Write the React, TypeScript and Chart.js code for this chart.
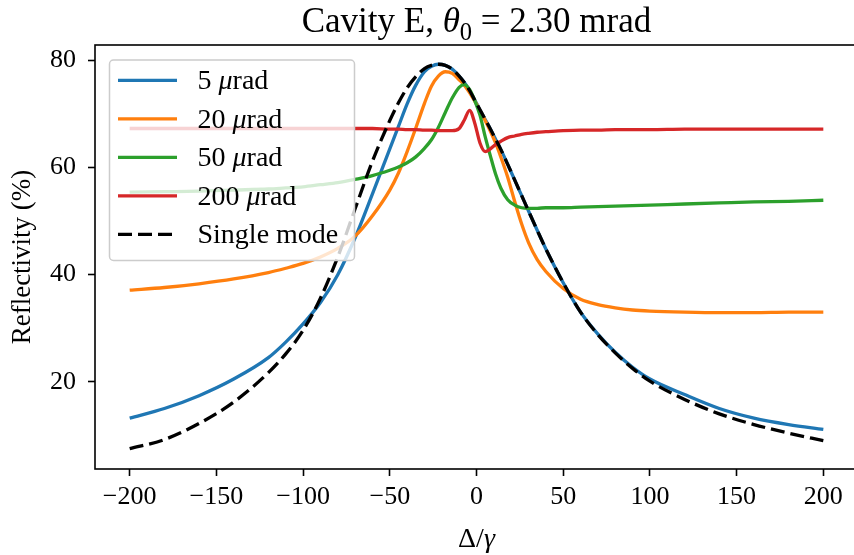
import { useEffect, useRef } from 'react';
import { Chart, registerables } from 'chart.js';

Chart.register(...registerables);

// Detuning grid (Δ/γ) shared by all curves
const DELTA = [
  -200, -180, -160, -140, -120, -110, -100, -90, -80, -70,
  -60, -50, -45, -40, -35, -30, -26, -22, -18, -14,
  -10, -7, -4, -1, 2, 5, 8, 11, 14, 18,
  22, 26, 30, 35, 40, 50, 60, 70, 80, 90,
  100, 120, 140, 160, 180, 200,
];

// Reflectivity (%) for each divergence
const R_5 = [
  13.2, 15.0, 17.4, 20.5, 24.5, 27.4, 30.8, 34.8, 40.0, 46.9,
  55.1, 63.5, 67.7, 71.9, 75.4, 77.9, 78.9, 79.3, 79.1, 78.4,
  77.1, 75.9, 74.4, 72.6, 70.8, 69.0, 67.2, 65.3, 63.4, 60.6,
  57.7, 54.8, 51.9, 48.3, 44.8, 38.5, 33.0, 28.9, 25.5, 22.7,
  20.5, 17.6, 15.0, 13.2, 12.0, 11.1,
];
const R_20 = [
  37.1, 37.6, 38.3, 39.2, 40.4, 41.2, 42.1, 43.3, 44.9, 47.2,
  51.0, 55.8, 59.0, 63.0, 67.4, 72.0, 75.2, 77.1, 77.9, 77.6,
  76.4, 75.4, 74.0, 72.4, 70.7, 68.8, 66.8, 64.6, 62.0, 58.2,
  53.7, 49.5, 46.0, 42.8, 40.6, 37.4, 35.4, 34.4, 33.8, 33.4,
  33.2, 33.0, 32.9, 32.9, 33.0, 33.0,
];
const R_50 = [
  55.4, 55.5, 55.6, 55.8, 56.0, 56.2, 56.4, 56.8, 57.2, 57.8,
  58.5, 59.5, 60.1, 60.9, 62.0, 63.6, 65.2, 67.5, 70.3, 73.0,
  75.0, 75.5, 74.6, 72.5, 69.8, 65.8, 62.2, 58.8, 56.2, 54.0,
  53.0, 52.5, 52.4, 52.4, 52.5, 52.5, 52.6, 52.7, 52.8, 52.9,
  53.0, 53.2, 53.4, 53.6, 53.7, 53.9,
];
const R_200 = [
  67.3, 67.3, 67.3, 67.3, 67.3, 67.3, 67.3, 67.3, 67.3, 67.3,
  67.3, 67.2, 67.2, 67.1, 67.1, 67.0, 67.0, 66.9, 66.9, 66.9,
  67.3, 68.9, 70.7, 68.3, 64.6, 63.0, 63.5, 64.3, 64.9, 65.6,
  65.9, 66.2, 66.4, 66.6, 66.7, 66.9, 67.0, 67.0, 67.1, 67.1,
  67.1, 67.2, 67.2, 67.2, 67.2, 67.2,
];
const R_SINGLE = [
  7.5, 9.2, 12.2, 16.2, 21.7, 25.2, 29.6, 35.6, 43.3, 52.3,
  61.2, 68.8, 72.1, 74.9, 77.0, 78.5, 79.1, 79.3, 79.1, 78.4,
  77.1, 75.9, 74.4, 72.6, 70.8, 69.0, 67.2, 65.3, 63.4, 60.6,
  57.7, 54.8, 51.9, 48.3, 44.8, 38.5, 33.0, 28.8, 25.4, 22.5,
  20.1, 16.7, 14.0, 12.0, 10.4, 9.0,
];

const X_TICKS = [-200, -150, -100, -50, 0, 50, 100, 150, 200];
const Y_TICKS = [20, 40, 60, 80];

const SERIES_LABELS = ['5', '20', '50', '200'];
const SINGLE_LABEL = 'Single mode';
const TITLE_PREFIX = 'Cavity E, ';
const TITLE_VALUE = ' = 2.30 mrad';
const Y_TITLE = 'Reflectivity (%)';

const COLORS = ['#1f77b4', '#ff7f0e', '#2ca02c', '#d62728', '#000000'];
const SERIF = '"Liberation Serif", "Times New Roman", serif';

type Seg = { t: string; italic?: boolean; sub?: boolean };

function segFont(s: Seg, size: number) {
  return `${s.italic ? 'italic ' : ''}${s.sub ? size * 0.7 : size}px ${SERIF}`;
}

// Draws a line of mixed upright / italic / subscript text on a common baseline.
function drawRich(
  ctx: CanvasRenderingContext2D,
  segs: Seg[],
  x: number,
  baseline: number,
  size: number,
  align: 'left' | 'center'
) {
  ctx.save();
  ctx.fillStyle = '#000';
  ctx.textBaseline = 'alphabetic';
  ctx.textAlign = 'left';
  const widths = segs.map((s) => {
    ctx.font = segFont(s, size);
    return ctx.measureText(s.t).width;
  });
  const total = widths.reduce((a, b) => a + b, 0);
  let cx = align === 'center' ? x - total / 2 : x;
  segs.forEach((s, i) => {
    ctx.font = segFont(s, size);
    ctx.fillText(s.t, cx, s.sub ? baseline + size * 0.22 : baseline);
    cx += widths[i];
  });
  ctx.restore();
}

const decorPlugin = {
  id: 'decor',
  afterDatasetsDraw(chart: Chart) {
    const { ctx, chartArea } = chart;
    const { left, top, right, bottom } = chartArea;

    // axes frame
    ctx.save();
    ctx.strokeStyle = '#000';
    ctx.lineWidth = 1.6;
    ctx.strokeRect(left, top, right - left, bottom - top);
    ctx.restore();

    // legend box in the upper-left corner of the plot
    const bx = left + 14.5;
    const by = top + 15;
    const bw = 245;
    const bh = 200.5;
    ctx.save();
    ctx.beginPath();
    ctx.roundRect(bx, by, bw, bh, 4);
    ctx.fillStyle = 'rgba(255,255,255,0.8)';
    ctx.fill();
    ctx.strokeStyle = '#cccccc';
    ctx.lineWidth = 1.5;
    ctx.stroke();
    ctx.restore();

    const rowH = 38.5;
    const size = 28;
    chart.data.datasets.forEach((ds: any, i: number) => {
      const cy = by + 20.3 + i * rowH;
      ctx.save();
      ctx.strokeStyle = ds.borderColor;
      ctx.lineWidth = ds.borderWidth;
      ctx.setLineDash(ds.borderDash || []);
      ctx.beginPath();
      ctx.moveTo(bx + 8.5, cy);
      ctx.lineTo(bx + 67.5, cy);
      ctx.stroke();
      ctx.restore();
      const segs: Seg[] =
        i < SERIES_LABELS.length
          ? [{ t: SERIES_LABELS[i] + ' ' }, { t: 'μ', italic: true }, { t: 'rad' }]
          : [{ t: SINGLE_LABEL }];
      drawRich(ctx, segs, bx + 88, cy + size * 0.32, size, 'left');
    });
  },
  afterDraw(chart: Chart) {
    const { ctx, chartArea } = chart;
    const cx = (chartArea.left + chartArea.right) / 2;
    // title
    drawRich(
      ctx,
      [{ t: TITLE_PREFIX }, { t: 'θ', italic: true }, { t: '0', sub: true }, { t: TITLE_VALUE }],
      cx,
      32,
      35,
      'center'
    );
    // x-axis title
    drawRich(ctx, [{ t: 'Δ/' }, { t: 'γ', italic: true }], cx, 547, 28, 'center');
  },
};

export default function App() {
  const canvasRef = useRef<HTMLCanvasElement | null>(null);

  useEffect(() => {
    const canvas = canvasRef.current;
    if (!canvas) return;
    const series = [R_5, R_20, R_50, R_200, R_SINGLE];
    const chart = new Chart(canvas, {
      type: 'line',
      data: {
        datasets: series.map((vals, i) => ({
          label: i < 4 ? `${SERIES_LABELS[i]} μrad` : SINGLE_LABEL,
          data: DELTA.map((x, j) => ({ x, y: vals[j] })),
          borderColor: COLORS[i],
          backgroundColor: COLORS[i],
          borderWidth: 3.3,
          borderDash: i === 4 ? [14, 6] : [],
          pointRadius: 0,
          fill: false,
          cubicInterpolationMode: 'monotone' as const,
          order: 4 - i,
        })),
      },
      options: {
        animation: false,
        responsive: false,
        devicePixelRatio: 1,
        layout: { padding: { top: 45, right: 22, left: 0, bottom: 0 } },
        plugins: {
          legend: { display: false },
          title: { display: false },
          tooltip: { enabled: false },
        },
        scales: {
          x: {
            type: 'linear',
            min: -220,
            max: 220,
            afterFit: (s: any) => {
              s.height = 86;
            },
            afterBuildTicks: (s: any) => {
              s.ticks = X_TICKS.map((v) => ({ value: v }));
            },
            grid: {
              drawOnChartArea: false,
              drawTicks: true,
              tickLength: 7,
              tickColor: '#000',
              tickWidth: 1.6,
            },
            border: { display: false },
            ticks: {
              autoSkip: false,
              maxRotation: 0,
              padding: 6,
              color: '#000',
              font: { family: SERIF, size: 26 },
              callback: (v: any) => (v < 0 ? '\u2212' + Math.abs(v) : String(v)),
            },
          },
          y: {
            type: 'linear',
            min: 3.7,
            max: 82.9,
            afterFit: (s: any) => {
              s.width = 95;
            },
            afterBuildTicks: (s: any) => {
              s.ticks = Y_TICKS.map((v) => ({ value: v }));
            },
            grid: {
              drawOnChartArea: false,
              drawTicks: true,
              tickLength: 7,
              tickColor: '#000',
              tickWidth: 1.6,
            },
            border: { display: false },
            ticks: {
              padding: 12,
              color: '#000',
              font: { family: SERIF, size: 26 },
            },
            title: {
              display: true,
              text: Y_TITLE,
              color: '#000',
              font: { family: SERIF, size: 27 },
              padding: { top: 6.8, bottom: 0 },
            },
          },
        },
      },
      plugins: [decorPlugin],
    });
    return () => chart.destroy();
  }, []);

  return (
    <div
      style={{
        position: 'fixed',
        left: 0,
        top: 0,
        width: 854,
        height: 555,
        overflow: 'hidden',
        background: '#fff',
      }}
    >
      <canvas ref={canvasRef} width={880} height={555} style={{ display: 'block' }} />
    </div>
  );
}
